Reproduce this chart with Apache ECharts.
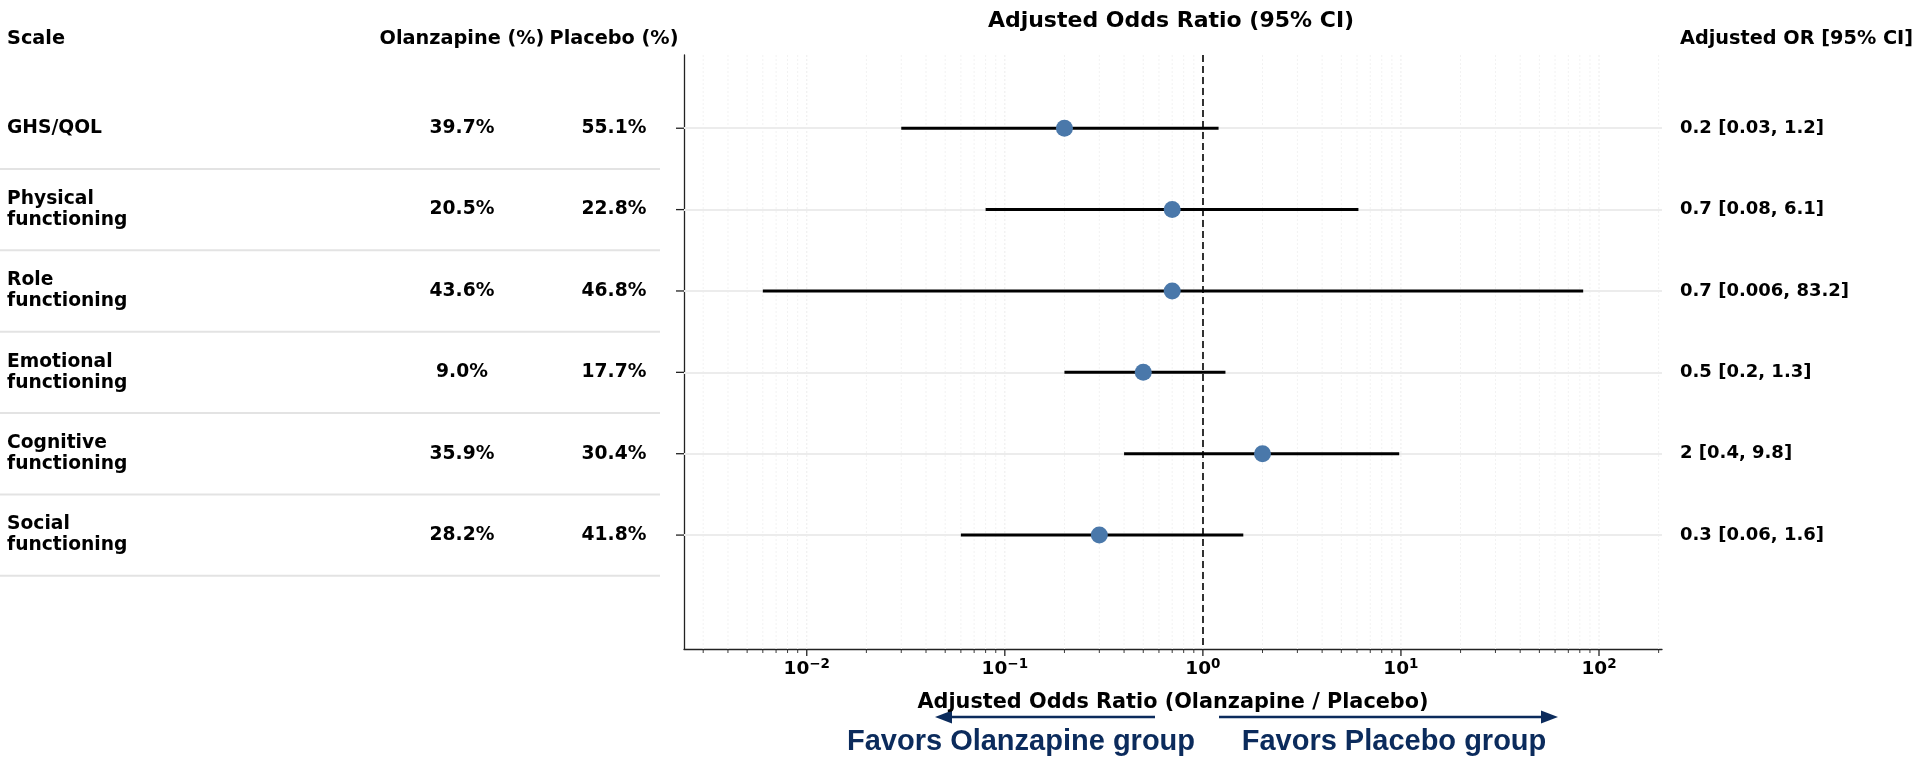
<!DOCTYPE html>
<html>
<head>
<meta charset="utf-8">
<style>
  html, body { margin: 0; padding: 0; background: #ffffff; }
  #chart { width: 1917px; height: 757px; }
</style>
<script src="https://cdn.jsdelivr.net/npm/echarts@6/dist/echarts.min.js"></script>
</head>
<body>
<div id="chart"></div>
<script>
// ---------------- data ----------------
const categories = ['GHS/QOL', 'Physical\nfunctioning', 'Role\nfunctioning', 'Emotional\nfunctioning', 'Cognitive\nfunctioning', 'Social\nfunctioning'];
const olanzapinePct = [39.7, 20.5, 43.6, 9.0, 35.9, 28.2];
const placeboPct = [55.1, 22.8, 46.8, 17.7, 30.4, 41.8];
const oddsRatio = [0.2, 0.7, 0.7, 0.5, 2, 0.3];
const ciLower = [0.03, 0.08, 0.006, 0.2, 0.4, 0.06];
const ciUpper = [1.2, 6.1, 83.2, 1.3, 9.8, 1.6];
const majorTicks = [0.01, 0.1, 1, 10, 100];
const headers = ['Scale', 'Olanzapine (%)', 'Placebo (%)', 'Adjusted OR [95% CI]'];

// ---------------- layout constants ----------------
const FONT = '"DejaVu Sans", sans-serif';
const BODY = 18.7;
const HEAD = 19.3;
const RIGHT_FS = 18;
const X_MIN = 0.0024, X_MAX = 208;
const Y_MIN = -0.9, Y_MAX = 6.4;
const GRID_TOP = 55, GRID_H = 594;
const PLOT_LEFT = 684, PLOT_W = 978;
const COL_SCALE = 7, COL_OLA = 462, COL_PLA = 614;
const RIGHT_COL = 1680;
const NAVY = '#0b2b5c';

// minor tick positions (2..9 x 10^n) inside the axis range
const minorTicks = [];
for (let n = -3; n <= 2; n++) {
  for (let k = 2; k <= 9; k++) {
    const v = +(k * Math.pow(10, n)).toPrecision(3);
    if (v >= X_MIN && v <= X_MAX) minorTicks.push(v);
  }
}
const tickData = majorTicks.map(v => [v, 1]).concat(minorTicks.map(v => [v, 0]));
const rows = categories.map((c, i) => i);

const chart = echarts.init(document.getElementById('chart'), null, { renderer: 'canvas' });

function expLabel(v) {
  const e = Math.round(Math.log10(v));
  const s = String(e).replace('-', '\u2212');
  return '{b|10}{s|' + s + '}';
}

function headText(text, x, align) {
  return { type: 'text', x: x, y: 39, silent: true,
    style: { text: text, fill: '#000', fontFamily: FONT, fontWeight: 'bold', fontSize: HEAD, align: align, verticalAlign: 'middle' } };
}

// a table column drawn as text placed through the grid's own axes
function textColumn(gridIdx, colX, texts, align, fontSize) {
  return {
    type: 'custom', xAxisIndex: gridIdx, yAxisIndex: gridIdx, silent: true, clip: false, z: 6,
    data: rows.map(i => [colX, i]),
    encode: { x: 0, y: 1 },
    renderItem: function (params, api) {
      const p = api.coord([api.value(0), api.value(1)]);
      return {
        type: 'text', x: p[0], y: p[1],
        style: { text: texts[params.dataIndex], fill: '#000', fontFamily: FONT, fontWeight: 'bold',
                 fontSize: fontSize, lineHeight: 21, align: align, verticalAlign: 'middle' }
      };
    }
  };
}

const option = {
  animation: false,
  backgroundColor: '#ffffff',
  grid: [
    { left: PLOT_LEFT, top: GRID_TOP, width: PLOT_W, height: GRID_H },
    { left: 0, top: GRID_TOP, width: 660, height: GRID_H },
    { left: RIGHT_COL, top: GRID_TOP, width: 230, height: GRID_H }
  ],
  xAxis: [
    {
      gridIndex: 0, type: 'log', logBase: 10, min: X_MIN, max: X_MAX,
      axisLine: { show: true, onZero: false, lineStyle: { color: '#222', width: 1.3 } },
      axisTick: { show: false },
      splitLine: { show: false },
      minorTick: { show: false },
      axisLabel: {
        show: true, margin: 8, showMinLabel: false, showMaxLabel: false,
        formatter: expLabel,
        rich: {
          b: { fontFamily: FONT, fontWeight: 'bold', fontSize: 18.5, color: '#000', lineHeight: 22, verticalAlign: 'bottom' },
          s: { fontFamily: FONT, fontWeight: 'bold', fontSize: 13.5, color: '#000', lineHeight: 14, verticalAlign: 'top' }
        }
      },
      name: 'Adjusted Odds Ratio (Olanzapine / Placebo)',
      nameLocation: 'middle', nameGap: 43,
      nameTextStyle: { fontFamily: FONT, fontWeight: 'bold', fontSize: 20.8, color: '#000' }
    },
    { gridIndex: 1, type: 'value', min: 0, max: 660, show: false },
    { gridIndex: 2, type: 'value', min: 0, max: 230, show: false }
  ],
  yAxis: [
    {
      gridIndex: 0, type: 'value', inverse: true, min: Y_MIN, max: Y_MAX,
      axisLine: { show: true, onZero: false, lineStyle: { color: '#222', width: 1.3 } },
      axisTick: { show: false }, axisLabel: { show: false }, splitLine: { show: false }
    },
    { gridIndex: 1, type: 'value', inverse: true, min: Y_MIN, max: Y_MAX, show: false },
    { gridIndex: 2, type: 'value', inverse: true, min: Y_MIN, max: Y_MAX, show: false }
  ],
  series: [
    // vertical grid lines + x ticks
    {
      type: 'custom', xAxisIndex: 0, yAxisIndex: 0, clip: false, silent: true, z: 1,
      data: tickData,
      encode: { x: 0, y: 1 },
      renderItem: function (params, api) {
        const cs = params.coordSys;
        const p = api.coord([api.value(0), 0]);
        const major = api.value(1) === 1;
        const bottom = cs.y + cs.height;
        return {
          type: 'group', children: [
            { type: 'line', shape: { x1: p[0], y1: cs.y, x2: p[0], y2: bottom },
              style: { stroke: major ? '#ececec' : '#f2f2f2', lineWidth: 1, lineDash: [2, 2] } },
            { type: 'line', shape: { x1: p[0], y1: bottom, x2: p[0], y2: bottom + (major ? 7 : 4) },
              style: { stroke: '#222', lineWidth: major ? 1.3 : 0.9 } }
          ]
        };
      }
    },
    // y ticks at each row (left of the spine)
    {
      type: 'custom', xAxisIndex: 0, yAxisIndex: 0, clip: false, silent: true, z: 2,
      data: rows.map(i => [1, i]),
      encode: { x: 0, y: 1 },
      renderItem: function (params, api) {
        const cs = params.coordSys;
        const p = api.coord([1, api.value(1)]);
        return { type: 'line', shape: { x1: cs.x - 8, y1: p[1], x2: cs.x, y2: p[1] },
                 style: { stroke: '#222', lineWidth: 1.3 } };
      }
    },
    // confidence intervals (+ row grid lines and the reference line at OR = 1)
    {
      type: 'custom', xAxisIndex: 0, yAxisIndex: 0, silent: true, z: 3,
      data: rows.map(i => [ciLower[i], ciUpper[i], i]),
      encode: { x: [0, 1], y: 2 },
      renderItem: function (params, api) {
        const p1 = api.coord([api.value(0), api.value(2)]);
        const p2 = api.coord([api.value(1), api.value(2)]);
        return { type: 'line', shape: { x1: p1[0], y1: p1[1], x2: p2[0], y2: p2[1] },
                 style: { stroke: '#000', lineWidth: 3 } };
      },
      markLine: {
        silent: true, symbol: ['none', 'none'], label: { show: false }, z: 2,
        data: rows.map(i => ({ yAxis: i, lineStyle: { color: '#ececec', width: 2, type: 'solid' } }))
          .concat([{ xAxis: 1, lineStyle: { color: '#000', width: 1.6, type: [7, 4] } }])
      }
    },
    // point estimates
    {
      type: 'scatter', xAxisIndex: 0, yAxisIndex: 0, z: 5, silent: true,
      symbol: 'circle', symbolSize: 17,
      itemStyle: { color: '#4a78aa', opacity: 1 },
      data: rows.map(i => [oddsRatio[i], i])
    },
    // table separators
    {
      type: 'custom', xAxisIndex: 1, yAxisIndex: 1, silent: true, clip: false, z: 1,
      data: rows.map(i => [0, i + 0.5]),
      encode: { x: 0, y: 1 },
      renderItem: function (params, api) {
        const cs = params.coordSys;
        const p = api.coord([0, api.value(1)]);
        return { type: 'line', shape: { x1: cs.x, y1: p[1], x2: cs.x + cs.width, y2: p[1] },
                 style: { stroke: '#e3e3e3', lineWidth: 2 } };
      }
    },
    textColumn(1, COL_SCALE, categories, 'left', BODY),
    textColumn(1, COL_OLA, olanzapinePct.map(v => v.toFixed(1) + '%'), 'center', BODY),
    textColumn(1, COL_PLA, placeboPct.map(v => v.toFixed(1) + '%'), 'center', BODY),
    textColumn(2, 0, rows.map(i => oddsRatio[i] + ' [' + ciLower[i] + ', ' + ciUpper[i] + ']'), 'left', RIGHT_FS)
  ],
  graphic: [
    { type: 'text', x: 1171, y: 21, silent: true,
      style: { text: 'Adjusted Odds Ratio (95% CI)', fill: '#000', fontFamily: FONT, fontWeight: 'bold', fontSize: 22, align: 'center', verticalAlign: 'middle' } },
    headText(headers[0], COL_SCALE, 'left'),
    headText(headers[1], COL_OLA, 'center'),
    headText(headers[2], COL_PLA, 'center'),
    headText(headers[3], RIGHT_COL, 'left'),
    // arrows
    { type: 'line', silent: true, shape: { x1: 1155, y1: 717, x2: 948, y2: 717 }, style: { stroke: NAVY, lineWidth: 2.5 } },
    { type: 'polygon', silent: true, shape: { points: [[935, 717], [952, 710.5], [952, 723.5]] }, style: { fill: NAVY } },
    { type: 'line', silent: true, shape: { x1: 1219, y1: 717, x2: 1545, y2: 717 }, style: { stroke: NAVY, lineWidth: 2.5 } },
    { type: 'polygon', silent: true, shape: { points: [[1558, 717], [1541, 710.5], [1541, 723.5]] }, style: { fill: NAVY } },
    { type: 'text', x: 1021, y: 742, silent: true,
      style: { text: 'Favors Olanzapine group', fill: NAVY, fontFamily: '"Liberation Sans", Arial, sans-serif', fontWeight: 'bold', fontSize: 29, align: 'center', verticalAlign: 'middle' } },
    { type: 'text', x: 1394, y: 742, silent: true,
      style: { text: 'Favors Placebo group', fill: NAVY, fontFamily: '"Liberation Sans", Arial, sans-serif', fontWeight: 'bold', fontSize: 29, align: 'center', verticalAlign: 'middle' } }
  ]
};

chart.setOption(option);
</script>
</body>
</html>
